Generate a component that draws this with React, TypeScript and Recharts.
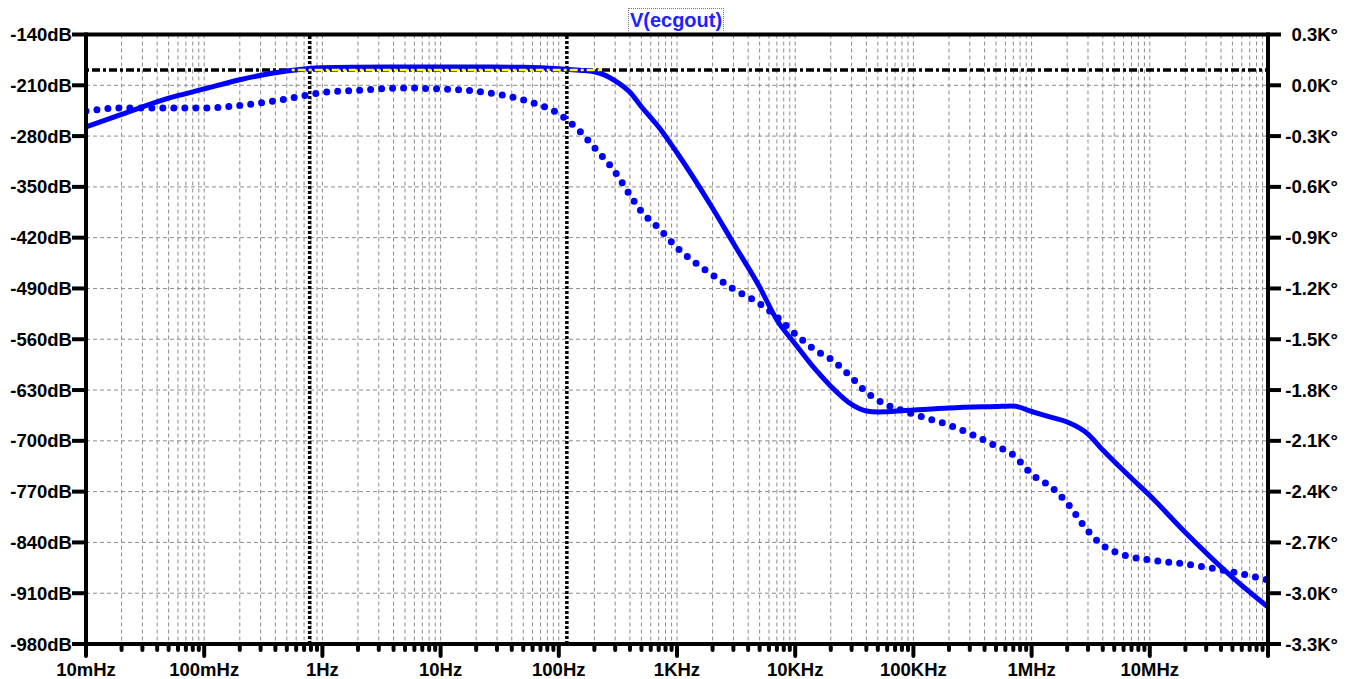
import React from 'react';
import { ComposedChart, Line, XAxis, YAxis, CartesianGrid, ReferenceLine } from 'recharts';

// Bode plot of V(ecgout): magnitude (dB, left axis) and phase (degrees, right axis)
const freqHz = [
  0.01, 0.02, 0.05, 0.1, 0.2, 0.5, 1, 2, 5, 10, 20, 50, 100, 150, 200, 300, 400, 500, 700,
  1e3, 2e3, 3e3, 5e3, 7e3, 1e4, 1.5e4, 2e4, 3e4, 4e4, 5e4, 1e5, 2e5, 5e5, 7e5,
  1e6, 1.5e6, 2e6, 3e6, 4e6, 5e6, 7e6, 1e7, 2e7, 5e7, 1e8,
];

const magnitudeDb = [
  -267.5, -250.1, -227.8, -215.0, -202.3, -190.4, -185.8, -185.1, -184.8, -184.8, -184.8, -185.2,
  -187.1, -189.3, -191.3, -203.8, -219.7, -239.6, -267.5,
  -303.0, -379.5, -427.6, -488.0, -533.5, -566.5, -602.7, -624.7, -649.8, -658.9, -660.3,
  -657.5, -654.8, -652.7, -652.0,
  -659.6, -667.9, -674.0, -690.6, -712.6, -728.4, -751.5, -775.4, -826.3, -888.1, -929.0,
];

const phaseDeg = [
  -151.9, -134.1, -134.1, -134.1, -119.4, -80.0, -42.6, -29.6, -16.0, -21.9, -35.5, -86.9,
  -169.6, -270.0, -367.5, -512.2, -648.0, -745.5, -843.0,
  -958.1, -1120.6, -1203.3, -1289.5, -1368.7, -1468.4, -1566.5, -1616.7, -1726.0, -1812.8, -1859.2,
  -1942.0, -2006.6, -2130.7, -2183.8,
  -2296.0, -2378.7, -2467.3, -2632.7, -2718.3, -2753.8, -2786.3, -2804.0, -2827.6, -2874.9, -2922.0,
];

const decadeTicks = [0.01, 0.1, 1, 10, 100, 1e3, 1e4, 1e5, 1e6, 1e7];
const decadeLabels = ['10mHz', '100mHz', '1Hz', '10Hz', '100Hz', '1KHz', '10KHz', '100KHz', '1MHz', '10MHz'];
const freqMax = 1e8;

const dbTicks = [-980, -910, -840, -770, -700, -630, -560, -490, -420, -350, -280, -210, -140];
const phaseTicks = [-3300, -3000, -2700, -2400, -2100, -1800, -1500, -1200, -900, -600, -300, 0, 300];

// cursor positions
const cursorFreqs = [0.78, 117];
const cursorDb = -189;
const cursorOverlapFreqs = [0.55, 240];

const chartData = freqHz.map((f, i) => ({ f, mag: magnitudeDb[i], phase: phaseDeg[i] }));
// part of the horizontal cursor that crosses the magnitude trace (drawn highlighted)
const cursorOverlap = cursorOverlapFreqs.map((f) => ({ f, cursor: cursorDb }));

const freqTicks: number[] = [];
decadeTicks.forEach((d) => {
  for (let m = 1; m <= 9; m++) freqTicks.push(d * m);
});
freqTicks.push(freqMax);

const FONT = '"Liberation Sans", Arial, sans-serif';
const BLUE = '#0000ff';
const TICK_FONT_SIZE = 18.5;

const FreqTick = (props: any) => {
  const { x, y, payload } = props;
  const v = payload.value as number;
  const idx = decadeTicks.findIndex((d) => Math.abs(d - v) / d < 1e-9);
  const major = idx >= 0 || Math.abs(v - freqMax) / freqMax < 1e-9;
  return (
    <g>
      <line x1={x} x2={x} y1={y} y2={y + (major ? 12 : 6)} stroke="#000" strokeWidth={4} strokeLinecap="round" />
      {idx >= 0 && (
        <text x={x} y={y + 32} textAnchor="middle" fontFamily={FONT} fontWeight="bold" fontSize={TICK_FONT_SIZE} fill="#000">
          {decadeLabels[idx]}
        </text>
      )}
    </g>
  );
};

const DbTick = (props: any) => {
  const { x, y, payload } = props;
  return (
    <g>
      <line x1={x} x2={x - 14} y1={y} y2={y} stroke="#000" strokeWidth={4} />
      <text x={x - 14} y={y} textAnchor="end" dominantBaseline="central" fontFamily={FONT} fontWeight="bold" fontSize={TICK_FONT_SIZE} fill="#000">
        {`${payload.value}dB`}
      </text>
    </g>
  );
};

const PhaseTick = (props: any) => {
  const { x, y, payload } = props;
  const label = `${(payload.value / 1000).toFixed(1)}K°`;
  return (
    <g>
      <line x1={x} x2={x + 13} y1={y} y2={y} stroke="#000" strokeWidth={4} />
      <text x={1338} y={y} textAnchor="end" dominantBaseline="central" fontFamily={FONT} fontWeight="bold" fontSize={TICK_FONT_SIZE} fill="#000">
        {label}
      </text>
    </g>
  );
};

export default function App() {
  return (
    <div style={{ position: 'absolute', left: 0, top: 0, width: 1348, height: 679, background: '#fff' }}>
      <ComposedChart
        width={1348}
        height={679}
        data={chartData}
        margin={{ top: 34.5, right: 0, bottom: 0, left: 0 }}
      >
        <CartesianGrid
          yAxisId="left"
          stroke="#8c8c8c"
          strokeDasharray="4 3"
          strokeWidth={1}
        />
        <XAxis
          dataKey="f"
          type="number"
          scale="log"
          domain={[0.01, freqMax]}
          ticks={freqTicks}
          interval={0}
          allowDataOverflow
          height={35}
          tickSize={0}
          tickMargin={0}
          tickLine={false}
          axisLine={{ stroke: '#000', strokeWidth: 4, strokeLinecap: 'square' }}
          tick={<FreqTick />}
        />
        <YAxis
          yAxisId="left"
          type="number"
          domain={[-980, -140]}
          ticks={dbTicks}
          interval={0}
          width={86}
          tickSize={0}
          tickMargin={0}
          tickLine={false}
          axisLine={{ stroke: '#000', strokeWidth: 4, strokeLinecap: 'square' }}
          tick={<DbTick />}
        />
        <YAxis
          yAxisId="right"
          orientation="right"
          type="number"
          domain={[-3300, 300]}
          ticks={phaseTicks}
          interval={0}
          width={80}
          tickSize={0}
          tickMargin={0}
          tickLine={false}
          axisLine={{ stroke: '#000', strokeWidth: 4, strokeLinecap: 'square' }}
          tick={<PhaseTick />}
        />
        <ReferenceLine yAxisId="left" y={-140} stroke="#000" strokeWidth={4} />
        <ReferenceLine yAxisId="left" y={cursorDb} stroke="#000" strokeWidth={3.5} strokeDasharray="3 3 8 3" />
        {cursorFreqs.map((f) => (
          <ReferenceLine key={f} yAxisId="left" x={f} stroke="#000" strokeWidth={3.5} strokeDasharray="3 2" />
        ))}
        <Line
          yAxisId="right"
          dataKey="phase"
          type="monotone"
          stroke={BLUE}
          strokeWidth={7}
          strokeDasharray="0 11"
          strokeLinecap="round"
          dot={false}
          activeDot={false}
          isAnimationActive={false}
        />
        <Line
          yAxisId="left"
          dataKey="mag"
          type="monotone"
          stroke={BLUE}
          strokeWidth={5}
          dot={false}
          activeDot={false}
          isAnimationActive={false}
        />
        <Line
          yAxisId="left"
          data={cursorOverlap}
          dataKey="cursor"
          type="linear"
          stroke="#ffff00"
          strokeWidth={2.5}
          strokeDasharray="3 3 8 3"
          dot={false}
          activeDot={false}
          isAnimationActive={false}
        />
      </ComposedChart>
      <div
        style={{
          position: 'absolute',
          left: 628,
          top: 8,
          width: 96,
          height: 25,
          boxSizing: 'border-box',
          border: '1px dotted #777',
          color: '#2222ff',
          fontFamily: FONT,
          fontWeight: 'bold',
          fontSize: 20,
          lineHeight: '23px',
          textAlign: 'center',
          whiteSpace: 'nowrap',
        }}
      >
        V(ecgout)
      </div>
    </div>
  );
}
